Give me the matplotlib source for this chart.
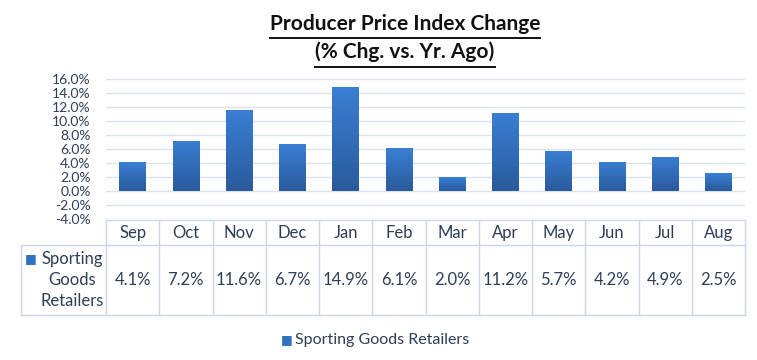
import matplotlib.pyplot as plt
import numpy as np
from matplotlib.transforms import blended_transform_factory
from matplotlib.colors import LinearSegmentedColormap

# datos
meses = ['Sep', 'Oct', 'Nov', 'Dec', 'Jan', 'Feb', 'Mar', 'Apr', 'May', 'Jun', 'Jul', 'Aug']
valores = [4.1, 7.2, 11.6, 6.7, 14.9, 6.1, 2.0, 11.2, 5.7, 4.2, 4.9, 2.5]
serie = 'Sporting Goods Retailers'
yticks = np.arange(-4, 17, 2)

plt.rcParams['font.family'] = ['Lato', 'DejaVu Sans']
texto = '#2d3e57'
borde = '#c9d7ea'

fig = plt.figure(figsize=(7.57, 3.6), dpi=100)
W, H = 757, 360
ax = fig.add_axes([106 / W, 1 - 219 / H, 639 / W, 140 / H])

x = np.arange(len(meses))
barras = ax.bar(x, valores, width=0.5, color='#3270c0', zorder=3)

# degradado en cada barra
grad = np.linspace(0, 1, 256).reshape(-1, 1)
cmap = LinearSegmentedColormap.from_list('azul', ['#2a5a9c', '#3a7fd4'])
for b in barras:
    bx, by = b.get_x(), b.get_y()
    im = ax.imshow(grad, extent=[bx, bx + b.get_width(), by, by + b.get_height()],
                   origin='lower', aspect='auto', cmap=cmap, zorder=4)
    im.set_clip_path(b)

ax.set_xlim(-0.5, len(meses) - 0.5)
ax.set_ylim(-4, 16)
ax.set_yticks(yticks)
ax.set_yticklabels([f'{v:.1f}%' for v in yticks], fontsize=10, color=texto)
ax.set_xticks([])
ax.tick_params(axis='y', length=0, pad=11)
ax.grid(axis='y', color='#dbe3ec', linewidth=1, zorder=0)
for s in ax.spines.values():
    s.set_visible(False)

# tabla de datos
tr = blended_transform_factory(ax.transData, fig.transFigure)
fy = lambda p: 1 - p / H
y_top, y_mid, y_bot = 220, 245, 315
kw = dict(color=borde, linewidth=1, transform=tr, clip_on=False)
ax.plot([-0.5, 11.5], [fy(y_top)] * 2, **kw)
ax.plot([-0.5, 11.5], [fy(y_mid)] * 2, **kw)
ax.plot([-0.5, 11.5], [fy(y_bot)] * 2, **kw)
for i in range(13):
    ax.plot([i - 0.5] * 2, [fy(y_top), fy(y_bot)], **kw)
fig.add_artist(plt.Line2D([21 / W, 106 / W], [fy(y_mid)] * 2, color=borde, linewidth=1))
fig.add_artist(plt.Line2D([21 / W, 106 / W], [fy(y_bot)] * 2, color=borde, linewidth=1))
fig.add_artist(plt.Line2D([21 / W] * 2, [fy(y_mid), fy(y_bot)], color=borde, linewidth=1))

for i, (m, v) in enumerate(zip(meses, valores)):
    ax.text(i, fy(233), m, transform=tr, ha='center', va='center', fontsize=12, color=texto)
    ax.text(i, fy(280), f'{v:.1f}%', transform=tr, ha='center', va='center', fontsize=12, color=texto)

fig.text(31 / W, fy(259), '■', ha='center', va='center', fontsize=9, color='#3270c0',
         family='DejaVu Sans')
fig.text(72 / W, fy(259), 'Sporting', ha='center', va='center', fontsize=12, color=texto)
fig.text(72 / W, fy(280), 'Goods', ha='center', va='center', fontsize=12, color=texto)
fig.text(72 / W, fy(301), 'Retailers', ha='center', va='center', fontsize=12, color=texto)

# leyenda
fig.text(287 / W, fy(340), '■', ha='center', va='center', fontsize=9, color='#3270c0',
         family='DejaVu Sans')
fig.text(295 / W, fy(340), serie, ha='left', va='center', fontsize=11.5, color=texto)

# titulo subrayado
t1 = fig.text(0.535, fy(24), 'Producer Price Index Change', ha='center', va='center',
              fontsize=15, fontweight='bold', color='#111111')
t2 = fig.text(0.535, fy(52), '(% Chg. vs. Yr. Ago)', ha='center', va='center',
              fontsize=15, fontweight='bold', color='#111111')
fig.canvas.draw()
r = fig.canvas.get_renderer()
for t, yl in [(t1, 37.5), (t2, 66.5)]:
    bb = t.get_window_extent(r)
    fig.add_artist(plt.Line2D([bb.x0 / W, bb.x1 / W], [fy(yl)] * 2, color='#111111', linewidth=1.4))

plt.savefig('out.png', dpi=100)
